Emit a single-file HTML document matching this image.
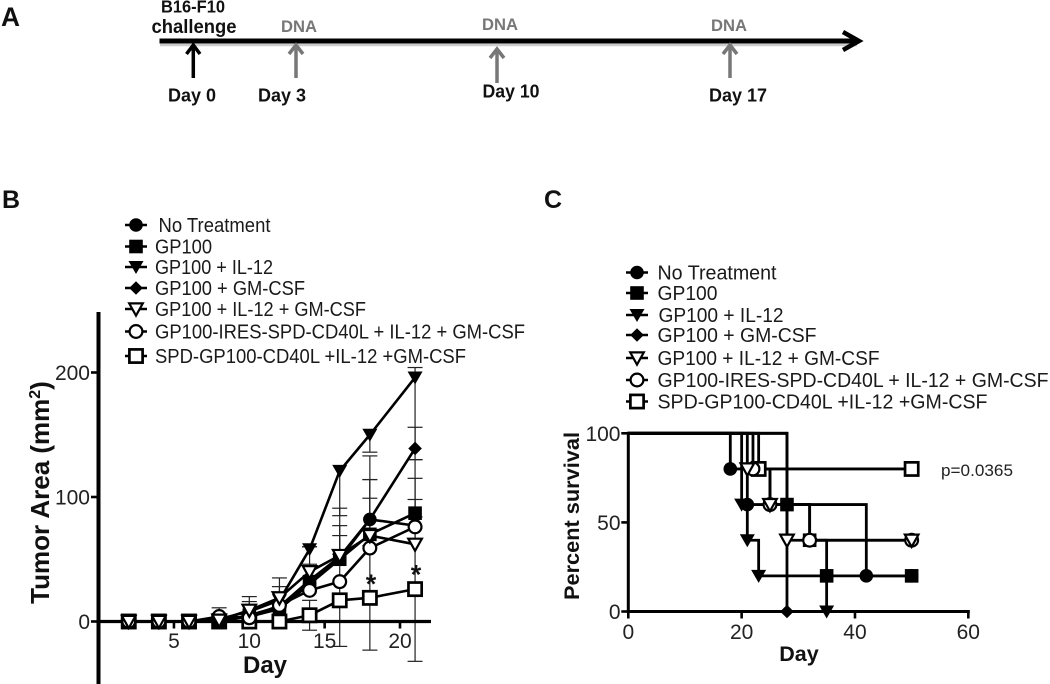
<!DOCTYPE html>
<html>
<head>
<meta charset="utf-8">
<title>Tumor challenge figure</title>
<style>
html,body{margin:0;padding:0;background:#fff;}
svg{display:block;font-family:"Liberation Sans",Arial,sans-serif;fill:#111;filter:blur(0.35px);}
.bold{font-weight:bold;}
.tick{font-size:21px;fill:#222;}
.leg{font-size:20px;fill:#1a1a1a;}
.legc{font-size:20.5px;fill:#1a1a1a;}
.dna{font-weight:bold;font-size:16.5px;fill:#777;}
.day{font-weight:bold;font-size:18px;}
</style>
</head>
<body>
<svg id="fig" xmlns="http://www.w3.org/2000/svg" width="1050" height="684" viewBox="0 0 1050 684">
<defs>
  <g id="m-nt"><circle r="6.8" fill="#000"/></g>
  <g id="m-gp"><rect x="-6.8" y="-6.8" width="13.6" height="13.6" fill="#000"/></g>
  <g id="m-il"><polygon points="-7.5,-6 7.5,-6 0,7" fill="#000"/></g>
  <g id="m-gm"><polygon points="-6.8,0 0,-6.8 6.8,0 0,6.8" fill="#000"/></g>
  <g id="m-ilgm"><polygon points="-6.8,-5.6 6.8,-5.6 0,6.6" fill="#fff" stroke="#000" stroke-width="2.2"/></g>
  <g id="m-ires"><circle r="6.4" fill="#fff" stroke="#000" stroke-width="2.2"/></g>
  <g id="m-spd"><rect x="-6.6" y="-6.6" width="13.2" height="13.2" fill="#fff" stroke="#000" stroke-width="2.7"/></g>
</defs>

<!-- Panel A -->
<g>
  <text class="bold" x="1" y="26" font-size="27" textLength="19" lengthAdjust="spacingAndGlyphs">A</text>
  <line x1="160" y1="45" x2="857" y2="45" stroke="#ccc" stroke-width="2.5"/>
  <line x1="159.5" y1="41" x2="858" y2="41" stroke="#000" stroke-width="5"/>
  <polyline points="843,32 859,41 843,50" fill="none" stroke="#000" stroke-width="4.5"/>
  <text class="bold" x="193" y="12.5" font-size="17.5" text-anchor="middle" textLength="64" lengthAdjust="spacingAndGlyphs">B16-F10</text>
  <text class="bold" x="194" y="33" font-size="19.5" text-anchor="middle" textLength="85" lengthAdjust="spacingAndGlyphs">challenge</text>
  <text class="dna" x="299" y="32" text-anchor="middle" textLength="36" lengthAdjust="spacingAndGlyphs">DNA</text>
  <text class="dna" x="500" y="30" text-anchor="middle" textLength="36" lengthAdjust="spacingAndGlyphs">DNA</text>
  <text class="dna" x="729" y="31" text-anchor="middle" textLength="36" lengthAdjust="spacingAndGlyphs">DNA</text>
  <g fill="none" stroke="#000" stroke-width="3.5"><line x1="193.3" y1="46" x2="193.3" y2="78"/><polyline points="186.5,54 193.3,45 200,54"/></g>
  <g fill="none" stroke="#777" stroke-width="3.5"><line x1="296" y1="46" x2="296" y2="78"/><polyline points="289,54 296,45 303,54"/></g>
  <g fill="none" stroke="#777" stroke-width="3.5"><line x1="497" y1="50" x2="497" y2="83"/><polyline points="490,58 497,49 504,58"/></g>
  <g fill="none" stroke="#777" stroke-width="3.5"><line x1="730" y1="46" x2="730" y2="78"/><polyline points="723,54 730,45 737,54"/></g>
  <text class="day" x="192" y="101.5" text-anchor="middle" textLength="48" lengthAdjust="spacingAndGlyphs">Day 0</text>
  <text class="day" x="282" y="101.5" text-anchor="middle" textLength="48" lengthAdjust="spacingAndGlyphs">Day 3</text>
  <text class="day" x="511" y="97.5" text-anchor="middle" textLength="57" lengthAdjust="spacingAndGlyphs">Day 10</text>
  <text class="day" x="738" y="101.5" text-anchor="middle" textLength="58" lengthAdjust="spacingAndGlyphs">Day 17</text>
</g>

<!-- Panel B static -->
<text class="bold" x="2" y="208" font-size="25">B</text>
<g id="chartB"></g>
<text class="bold" transform="translate(49,492.5) rotate(-90)" font-size="26" text-anchor="middle">Tumor Area (mm<tspan font-size="16" dy="-9">2</tspan><tspan dy="9">)</tspan></text>
<text class="bold" x="265" y="673" font-size="24" text-anchor="middle">Day</text>
<text class="bold" x="371" y="593" font-size="27" text-anchor="middle">*</text>
<text class="bold" x="416" y="583.5" font-size="27" text-anchor="middle">*</text>

<g>
  <g><line x1="125" x2="147" y1="225" y2="225" stroke="#000" stroke-width="2.4"/><use href="#m-nt" x="136" y="225"/><text class="leg" x="158.5" y="232" textLength="112" lengthAdjust="spacingAndGlyphs">No Treatment</text></g>
  <g><line x1="125" x2="147" y1="246.5" y2="246.5" stroke="#000" stroke-width="2.4"/><use href="#m-gp" x="136" y="246.5"/><text class="leg" x="155" y="253.5" textLength="57" lengthAdjust="spacingAndGlyphs">GP100</text></g>
  <g><line x1="125" x2="147" y1="267" y2="267" stroke="#000" stroke-width="2.4"/><use href="#m-il" x="136" y="267"/><text class="leg" x="155" y="274" textLength="118" lengthAdjust="spacingAndGlyphs">GP100 + IL-12</text></g>
  <g><line x1="125" x2="147" y1="288" y2="288" stroke="#000" stroke-width="2.4"/><use href="#m-gm" x="136" y="288"/><text class="leg" x="155" y="295" textLength="150" lengthAdjust="spacingAndGlyphs">GP100 + GM-CSF</text></g>
  <g><line x1="125" x2="147" y1="309" y2="309" stroke="#000" stroke-width="2.4"/><use href="#m-ilgm" x="136" y="309"/><text class="leg" x="155" y="316" textLength="211" lengthAdjust="spacingAndGlyphs">GP100 + IL-12 + GM-CSF</text></g>
  <g><line x1="125" x2="147" y1="331.5" y2="331.5" stroke="#000" stroke-width="2.4"/><use href="#m-ires" x="136" y="331.5"/><text class="leg" x="155" y="338.5" textLength="370" lengthAdjust="spacingAndGlyphs">GP100-IRES-SPD-CD40L + IL-12 + GM-CSF</text></g>
  <g><line x1="125" x2="147" y1="356" y2="356" stroke="#000" stroke-width="2.4"/><use href="#m-spd" x="136" y="356"/><text class="leg" x="155" y="363" textLength="311" lengthAdjust="spacingAndGlyphs">SPD-GP100-CD40L +IL-12 +GM-CSF</text></g>
</g>

<!-- Panel C static -->
<text class="bold" x="544" y="208" font-size="25">C</text>
<g id="chartC"></g>
<text class="bold" transform="translate(579,516) rotate(-90)" font-size="21" text-anchor="middle" textLength="168" lengthAdjust="spacingAndGlyphs">Percent survival</text>
<text class="bold" x="799" y="661" font-size="21.5" text-anchor="middle">Day</text>
<text x="941" y="476" font-size="16.5" fill="#222" textLength="72" lengthAdjust="spacingAndGlyphs">p=0.0365</text>

<g>
  <g><line x1="626" x2="648" y1="272.5" y2="272.5" stroke="#000" stroke-width="2.4"/><use href="#m-nt" x="637" y="272.5"/><text class="legc" x="657.5" y="279.5" textLength="119" lengthAdjust="spacingAndGlyphs">No Treatment</text></g>
  <g><line x1="626" x2="648" y1="293" y2="293" stroke="#000" stroke-width="2.4"/><use href="#m-gp" x="637" y="293"/><text class="legc" x="657.5" y="300" textLength="60" lengthAdjust="spacingAndGlyphs">GP100</text></g>
  <g><line x1="626" x2="648" y1="315" y2="315" stroke="#000" stroke-width="2.4"/><use href="#m-il" x="637" y="315"/><text class="legc" x="658.5" y="322" textLength="125" lengthAdjust="spacingAndGlyphs">GP100 + IL-12</text></g>
  <g><line x1="626" x2="648" y1="335" y2="335" stroke="#000" stroke-width="2.4"/><use href="#m-gm" x="637" y="335"/><text class="legc" x="657.5" y="342" textLength="159" lengthAdjust="spacingAndGlyphs">GP100 + GM-CSF</text></g>
  <g><line x1="626" x2="648" y1="358" y2="358" stroke="#000" stroke-width="2.4"/><use href="#m-ilgm" x="637" y="358"/><text class="legc" x="657.5" y="365" textLength="222" lengthAdjust="spacingAndGlyphs">GP100 + IL-12 + GM-CSF</text></g>
  <g><line x1="626" x2="648" y1="380" y2="380" stroke="#000" stroke-width="2.4"/><use href="#m-ires" x="637" y="380"/><text class="legc" x="657.5" y="387" textLength="391" lengthAdjust="spacingAndGlyphs">GP100-IRES-SPD-CD40L + IL-12 + GM-CSF</text></g>
  <g><line x1="626" x2="648" y1="401.5" y2="401.5" stroke="#000" stroke-width="2.4"/><use href="#m-spd" x="637" y="401.5"/><text class="legc" x="657.5" y="408.5" textLength="330" lengthAdjust="spacingAndGlyphs">SPD-GP100-CD40L +IL-12 +GM-CSF</text></g>
</g>
</svg>

<script>
// ---------- Panel B data ----------
const tumorDays = [2, 4, 6, 8, 10, 12, 14, 16, 18, 21];
const tumorNoTreatment = [0, 0, 0, 0, 4, 10, 30, 50, 82, 77];
const tumorGp100 = [0, 0, 0, 0, 5, 10, 32, 50, 70, 87];
const tumorIl12 = [0, 0, 0, 2, 8, 17, 58, 121, 150, 196];
const tumorGmCsf = [0, 0, 0, 0, 5, 12, 33, 52, 82, 139];
const tumorIl12GmCsf = [0, 0, 0, 1, 9, 19, 40, 53, 69, 62];
const tumorIres = [0, 0, 0, 4, 3, 13, 25, 32, 59, 76];
const tumorSpd = [0, 0, 0, 0, 0, 0, 5, 17, 19, 26];

const errUpNoTreatment = [0, 0, 0, 0, 0, 0, 0, 0, 32, 53];
const errDownNoTreatment = [0, 0, 0, 0, 0, 0, 0, 0, 0, 0];
const errUpGp100 = [0, 0, 0, 0, 0, 0, 14, 19, 44, 28];
const errDownGp100 = [0, 0, 0, 0, 0, 0, 0, 0, 0, 0];
const errUpIl12 = [0, 0, 0, 0, 0, 0, 2, 0, 0, 8];
const errDownIl12 = [0, 0, 0, 0, 0, 0, 0, 36, 14, 66];
const errUpGmCsf = [0, 0, 0, 0, 0, 0, 0, 25, 51, 17];
const errDownGmCsf = [0, 0, 0, 0, 0, 0, 0, 0, 0, 0];
const errUpIl12GmCsf = [0, 0, 0, 10, 11, 16, 20, 38, 30, 36];
const errDownIl12GmCsf = [0, 0, 0, 0, 0, 0, 0, 0, 0, 0];
const errUpIres = [0, 0, 0, 0, 13, 15, 0, 0, 0, 0];
const errDownIres = [0, 0, 0, 0, 0, 0, 0, 0, 0, 0];
const errUpSpd = [0, 0, 0, 0, 0, 0, 12, 37, 42, 58];
const errDownSpd = [0, 0, 0, 0, 0, 0, 12, 37, 42, 58];

const tumorXTicks = [5, 10, 15, 20];
const tumorYTicks = [0, 100, 200];

// ---------- Panel C data ----------
const survNoTreatmentDays = [18, 21, 42, 50];
const survNoTreatmentPct = [80, 60, 20, 20];
const survGp100Days = [28, 32, 35, 50];
const survGp100Pct = [60, 40, 20, 20];
const survIl12Days = [20, 21, 23, 35];
const survIl12Pct = [60, 40, 20, 0];
const survGmCsfDays = [28];
const survGmCsfPct = [0];
const survIl12GmCsfDays = [21, 25, 28, 50];
const survIl12GmCsfPct = [80, 60, 40, 40];
const survIresDays = [22, 25, 32, 50];
const survIresPct = [80, 60, 40, 40];
const survSpdDays = [23, 50];
const survSpdPct = [80, 80];

const survXTicks = [0, 20, 40, 60];
const survYTicks = [0, 50, 100];

// ---------- Axis functions ----------
const NS = 'http://www.w3.org/2000/svg';
function xB(d) { return 98.6 + d * 15.07; }
function yB(v) { return 621.5 - v * 1.245; }
function xC(d) { return 628.3 + d * 5.667; }
function yC(v) { return 611.5 - v * 1.782; }

function add(parent, tag, attrs, name) {
  const el = document.createElementNS(NS, tag);
  for (const k in attrs) el.setAttribute(k, attrs[k]);
  
  
  parent.appendChild(el);
  return el;
}
function marker(parent, kind, x, y, name) {
  add(parent, 'use', { href: '#m-' + kind, x: x, y: y }, name);
}

// ---------- Panel B ----------
const gB = document.getElementById('chartB');
const seriesB = [
  { key: 'nt', v: tumorNoTreatment, up: errUpNoTreatment, dn: errDownNoTreatment },
  { key: 'gp', v: tumorGp100, up: errUpGp100, dn: errDownGp100 },
  { key: 'il', v: tumorIl12, up: errUpIl12, dn: errDownIl12 },
  { key: 'gm', v: tumorGmCsf, up: errUpGmCsf, dn: errDownGmCsf },
  { key: 'ilgm', v: tumorIl12GmCsf, up: errUpIl12GmCsf, dn: errDownIl12GmCsf },
  { key: 'ires', v: tumorIres, up: errUpIres, dn: errDownIres },
  { key: 'spd', v: tumorSpd, up: errUpSpd, dn: errDownSpd }
];
const drawOrderB = ['spd', 'nt', 'gp', 'il', 'gm', 'ires', 'ilgm'];

// error bars
seriesB.forEach(function (s) {
  tumorDays.forEach(function (d, i) {
    const x = xB(d), top = yB(s.v[i] + s.up[i]), bot = yB(s.v[i] - s.dn[i]);
    if (s.up[i] > 0 || s.dn[i] > 0) {
      add(gB, 'line', { x1: x, x2: x, y1: top, y2: bot, stroke: '#222', 'stroke-width': 1.2 }, 'error-bar-' + s.key);
    }
    if (s.up[i] > 0) {
      add(gB, 'line', { x1: x - 7.5, x2: x + 7.5, y1: top, y2: top, stroke: '#222', 'stroke-width': 1.2 }, 'error-cap-' + s.key);
    }
    if (s.dn[i] > 0) {
      add(gB, 'line', { x1: x - 7.5, x2: x + 7.5, y1: bot, y2: bot, stroke: '#222', 'stroke-width': 1.2 }, 'error-cap-' + s.key);
    }
  });
});

// axes
add(gB, 'line', { x1: 98.5, x2: 98.5, y1: 312, y2: 684, stroke: '#000', 'stroke-width': 4 }, 'y-axis-b');
add(gB, 'line', { x1: 98, x2: 431, y1: yB(0), y2: yB(0), stroke: '#000', 'stroke-width': 3.2 }, 'x-axis-b');
tumorYTicks.forEach(function (t) {
  add(gB, 'line', { x1: 91, x2: 98, y1: yB(t), y2: yB(t), stroke: '#000', 'stroke-width': 2.6 }, 'y-tick-b');
  const lab = add(gB, 'text', { x: 90, y: yB(t) + 7.5, 'text-anchor': 'end', class: 'tick' }, 'y-tick-label-b');
  lab.textContent = t;
});
tumorXTicks.forEach(function (t) {
  add(gB, 'line', { x1: xB(t), x2: xB(t), y1: yB(0), y2: yB(0) + 7, stroke: '#000', 'stroke-width': 2.6 }, 'x-tick-b');
  const lab = add(gB, 'text', { x: xB(t), y: 648, 'text-anchor': 'middle', class: 'tick' }, 'x-tick-label-b');
  lab.textContent = t;
});

// lines
drawOrderB.forEach(function (key) {
  const s = seriesB.find(function (o) { return o.key === key; });
  const pts = tumorDays.map(function (d, i) { return xB(d) + ',' + yB(s.v[i]); }).join(' ');
  add(gB, 'polyline', { points: pts, fill: 'none', stroke: '#000', 'stroke-width': 2.6, 'stroke-linejoin': 'round' }, 'line-' + key);
});
// markers
drawOrderB.forEach(function (key) {
  const s = seriesB.find(function (o) { return o.key === key; });
  tumorDays.forEach(function (d, i) {
    marker(gB, key, xB(d), yB(s.v[i]), 'point-' + key);
  });
});

// ---------- Panel C ----------
const gC = document.getElementById('chartC');
const seriesC = [
  { key: 'nt', d: survNoTreatmentDays, p: survNoTreatmentPct },
  { key: 'gp', d: survGp100Days, p: survGp100Pct },
  { key: 'il', d: survIl12Days, p: survIl12Pct },
  { key: 'gm', d: survGmCsfDays, p: survGmCsfPct },
  { key: 'spd', d: survSpdDays, p: survSpdPct },
  { key: 'ires', d: survIresDays, p: survIresPct },
  { key: 'ilgm', d: survIl12GmCsfDays, p: survIl12GmCsfPct }
];

add(gC, 'line', { x1: xC(0), x2: xC(0), y1: yC(100) - 1.5, y2: yC(0) + 1.5, stroke: '#000', 'stroke-width': 3 }, 'y-axis-c');
add(gC, 'line', { x1: xC(0), x2: xC(60) + 1.5, y1: yC(0), y2: yC(0), stroke: '#000', 'stroke-width': 3 }, 'x-axis-c');
survYTicks.forEach(function (t) {
  add(gC, 'line', { x1: xC(0) - 7, x2: xC(0), y1: yC(t), y2: yC(t), stroke: '#000', 'stroke-width': 2.6 }, 'y-tick-c');
  const lab = add(gC, 'text', { x: 620.5, y: yC(t) + 7.5, 'text-anchor': 'end', class: 'tick' }, 'y-tick-label-c');
  lab.textContent = t;
});
survXTicks.forEach(function (t) {
  add(gC, 'line', { x1: xC(t), x2: xC(t), y1: yC(0), y2: yC(0) + 7, stroke: '#000', 'stroke-width': 2.6 }, 'x-tick-c');
  const lab = add(gC, 'text', { x: xC(t), y: 639, 'text-anchor': 'middle', class: 'tick' }, 'x-tick-label-c');
  lab.textContent = t;
});

seriesC.forEach(function (s) {
  let path = 'M' + xC(0) + ' ' + yC(100);
  s.d.forEach(function (d, i) {
    path += ' H' + xC(d) + ' V' + yC(s.p[i]);
  });
  add(gC, 'path', { d: path, fill: 'none', stroke: '#000', 'stroke-width': 2.8 }, 'survival-curve-' + s.key);
});
seriesC.forEach(function (s) {
  s.d.forEach(function (d, i) {
    marker(gC, s.key, xC(d), yC(s.p[i]), 'survival-point-' + s.key);
  });
});
</script>
</body>
</html>
